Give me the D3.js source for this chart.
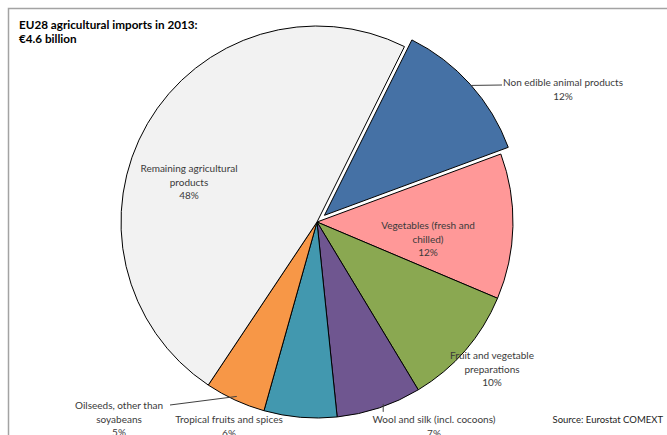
<!DOCTYPE html>
<html>
<head>
<meta charset="utf-8">
<script src="https://cdn.jsdelivr.net/npm/d3@7"></script>
<style>
  html, body { margin: 0; padding: 0; background: #ffffff; }
  svg { display: block; }
  text { font-family: Lato, "Open Sans", sans-serif; }
</style>
</head>
<body>
<svg id="chart" width="667" height="435"></svg>
<script>
// EU28 agricultural imports in 2013, shares of the €4.6 billion total (%)
const categories = [
  "Non edible animal products",
  "Vegetables (fresh and chilled)",
  "Fruit and vegetable preparations",
  "Wool and silk (incl. cocoons)",
  "Tropical fruits and spices",
  "Oilseeds, other than soyabeans",
  "Remaining agricultural products"
];
const shares = [12, 12, 10, 7, 6, 5, 48];
const sliceColors = ["#4571a5", "#ff9898", "#8aa851", "#6f5690", "#4298af", "#f79747", "#f2f2f2"];
// label text broken into lines as printed
const labelLines = [
  ["Non edible animal products", "12%"],
  ["Vegetables (fresh and", "chilled)", "12%"],
  ["Fruit and vegetable", "preparations", "10%"],
  ["Wool and silk (incl. cocoons)", "7%"],
  ["Tropical fruits and spices", "6%"],
  ["Oilseeds, other than", "soyabeans", "5%"],
  ["Remaining agricultural", "products", "48%"]
];
const titleLines = ["EU28 agricultural imports in 2013:", "€4.6 billion"];
const sourceText = "Source: Eurostat COMEXT";

const svg = d3.select("#chart");
const cx = 317, cy = 222, R = 196;
const explodeIdx = 0, explodeDist = 10;
const startDeg = 26.5;

// outer frame (open at right/bottom edges of the canvas)
svg.append("path")
  .attr("d", "M8.5,440 V8.5 H670")
  .attr("fill", "none")
  .attr("stroke", "#a3a3a3")
  .attr("stroke-width", 1.5);

const pie = d3.pie().sort(null).value(d => d)
  .startAngle(startDeg * Math.PI / 180)
  .endAngle(startDeg * Math.PI / 180 + 2 * Math.PI);
const arcs = pie(shares);
const arc = d3.arc().innerRadius(0).outerRadius(R);

const mid = a => (a.startAngle + a.endAngle) / 2;
const offsetOf = (a, i) => {
  const d = i === explodeIdx ? explodeDist : 0;
  return [d * Math.sin(mid(a)), -d * Math.cos(mid(a))];
};
const onRim = (a, i, r) => {
  const [ox, oy] = offsetOf(a, i);
  return [cx + ox + r * Math.sin(mid(a)), cy + oy - r * Math.cos(mid(a))];
};

const g = svg.append("g");
g.selectAll("path.slice")
  .data(arcs)
  .join("path")
  .attr("class", "slice")
  .attr("transform", (d, i) => {
    const [ox, oy] = offsetOf(d, i);
    return `translate(${cx + ox},${cy + oy})`;
  })
  .attr("d", arc)
  .attr("fill", (d, i) => sliceColors[i])
  .attr("stroke", "#000")
  .attr("stroke-width", 1)
  .attr("stroke-linejoin", "round");

// label placement: text anchor point (first baseline) and alignment
const labelPlace = [
  { x: 563, y: 86, anchor: "middle" },
  { x: 428, y: 229, anchor: "middle" },
  { x: 492, y: 359, anchor: "middle" },
  { x: 434, y: 423, anchor: "middle" },
  { x: 229, y: 423, anchor: "middle" },
  { x: 119, y: 409, anchor: "middle" },
  { x: 189, y: 172, anchor: "middle" }
];
const lineGap = 13.5;
const labelColor = "#3a3a3a";

labelLines.forEach((lines, i) => {
  const p = labelPlace[i];
  const t = svg.append("text")
    .attr("x", p.x).attr("y", p.y)
    .attr("text-anchor", p.anchor)
    .attr("font-size", 10)
    .attr("fill", labelColor);
  lines.forEach((s, k) => {
    t.append("tspan").attr("x", p.x).attr("y", p.y + k * lineGap).text(s);
  });
});

// leader lines
const leader = (pts) => svg.append("path")
  .attr("d", d3.line()(pts))
  .attr("fill", "none")
  .attr("stroke", "#404040")
  .attr("stroke-width", 1);

{
  const a = arcs[0], [x0, y0] = onRim(a, 0, R);
  leader([[x0 + 1, y0 + 1], [502, 85]]);
}
{
  const a = arcs[5], [x0, y0] = onRim(a, 5, R - 4);
  leader([[x0, y0], [170, 405]]);
}
{
  const a = arcs[3], [x0, y0] = onRim(a, 3, R);
  leader([[x0 + 4, y0 - 4], [x0 + 4, y0 + 4]]);
}

// title
const title = svg.append("text")
  .attr("x", 19).attr("y", 29)
  .attr("font-size", 11.7)
  .attr("font-weight", "bold")
  .attr("fill", "#000");
titleLines.forEach((s, k) => {
  title.append("tspan").attr("x", 19).attr("y", 29 + k * 13.5).text(s);
});

svg.append("text")
  .attr("x", 663).attr("y", 423)
  .attr("text-anchor", "end")
  .attr("font-size", 9.5)
  .attr("fill", "#222")
  .text(sourceText);
</script>
</body>
</html>
